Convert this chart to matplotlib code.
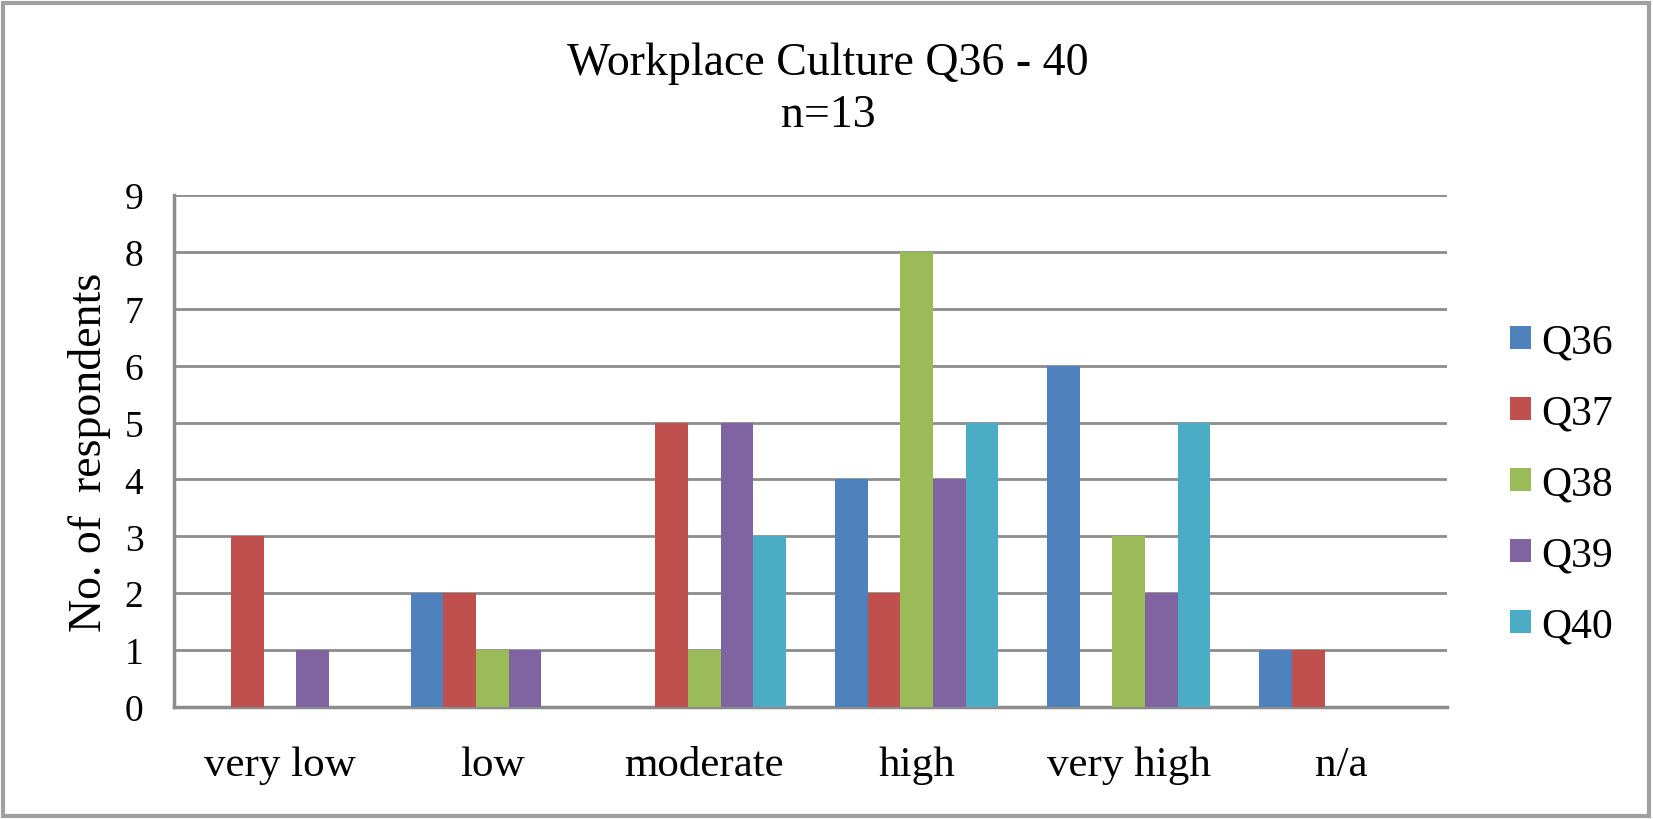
import matplotlib
matplotlib.use("Agg")
import matplotlib.pyplot as plt
import numpy as np
from matplotlib.patches import Rectangle

plt.rcParams['font.family'] = ['Liberation Serif', 'DejaVu Serif']

categories = ["very low", "low", "moderate", "high", "very high", "n/a"]
series_names = ["Q36", "Q37", "Q38", "Q39", "Q40"]
q36 = [0, 2, 0, 4, 6, 1]
q37 = [3, 2, 5, 2, 0, 1]
q38 = [0, 1, 1, 8, 3, 0]
q39 = [1, 1, 5, 4, 2, 0]
q40 = [0, 0, 3, 5, 5, 0]
series_values = [q36, q37, q38, q39, q40]
colors = ["#4F81BD", "#C0504D", "#9BBB59", "#8064A2", "#4BACC6"]
yticks = list(range(0, 10))

fig = plt.figure(figsize=(16.53, 8.2), dpi=100)
ax = fig.add_axes([174/1653, 1-708/820, (1447-174)/1653, (708-196)/820])

x = np.arange(len(categories))
bw = 1/6.5
for i, (name, vals, c) in enumerate(zip(series_names, series_values, colors)):
    ax.bar(x + (i-2)*bw, vals, width=bw, color=c, label=name, zorder=3)

ax.set_xlim(-0.5, len(categories)-0.5)
ax.set_ylim(0, 9)
ax.set_yticks(yticks)
ax.set_xticks(x)
ax.set_xticklabels(categories, fontsize=31)
ax.tick_params(axis='y', labelsize=27, length=0, pad=22)
ax.tick_params(axis='x', length=0, pad=28)
ax.grid(axis='y', color='#8c8c8c', linewidth=2, zorder=0)
for s in ['top', 'right']:
    ax.spines[s].set_visible(False)
for s in ['left', 'bottom']:
    ax.spines[s].set_color('#8c8c8c')
    ax.spines[s].set_linewidth(2.5)
ax.set_ylabel("No. of  respondents", fontsize=33, labelpad=10)

fig.text(828/1653, 1-64/820, "Workplace Culture Q36 - 40", ha='center', va='center', fontsize=33)
fig.text(828/1653, 1-116/820, "n=13", ha='center', va='center', fontsize=33)

leg = fig.legend(loc='center left', bbox_to_anchor=(1510/1653, 1-485/820), frameon=False,
                 fontsize=30, handlelength=0.5, handleheight=0.5, handletextpad=0.25,
                 labelspacing=0.78, borderpad=0, borderaxespad=0)

fig.patches.append(Rectangle((3/1653, 3/820), 1-7/1653, 1-7/820, transform=fig.transFigure,
                             fill=False, edgecolor='#a0a0a0', linewidth=3))

fig.savefig("out.png", dpi=100)
